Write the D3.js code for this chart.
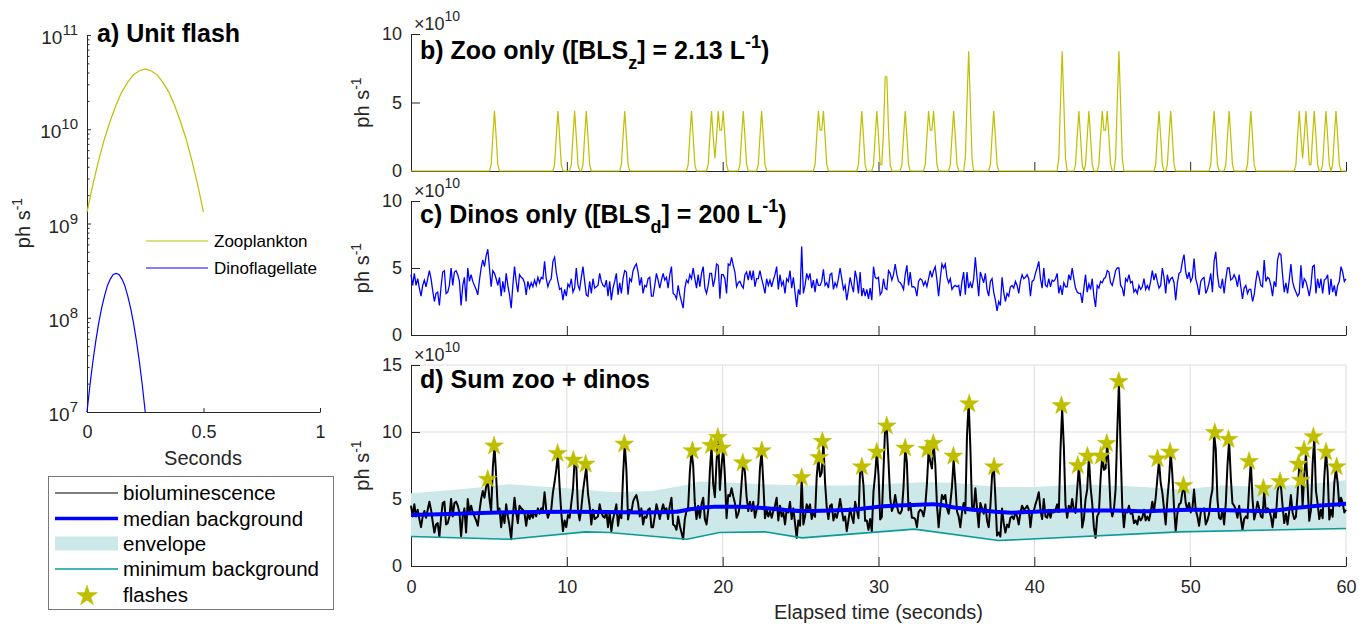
<!DOCTYPE html>
<html>
<head>
<meta charset="utf-8">
<script src="https://cdn.jsdelivr.net/npm/d3@7"></script>
<style>
  body { margin: 0; background: #fff; }
  svg text { font-family: "Liberation Sans", Arial, Helvetica, sans-serif; }
</style>
</head>
<body>
<svg id="chart" width="1368" height="624"></svg>
<script>
/*  Unit flashes, zoo / dino traces and detected flashes  */

// ---- a) unit flash (ph s^-1) ----
const zooFlashT = d3.range(21).map(i => i * 0.025);     // 0 .. 0.5 s
const zooFlash = [1.32e9, 2.57e9, 4.68e9, 7.94e9, 1.23e10, 1.82e10, 2.51e10, 3.16e10, 3.80e10, 4.17e10, 4.37e10,
                  4.17e10, 3.80e10, 3.16e10, 2.51e10, 1.82e10, 1.23e10, 7.94e9, 4.68e9, 2.57e9, 1.32e9];
const dinoFlashT = d3.range(21).map(i => i * 0.0125);   // 0 .. 0.25 s
const dinoFlash = [1.0e7, 1.91e7, 3.39e7, 5.62e7, 8.71e7, 1.26e8, 1.70e8, 2.19e8, 2.57e8, 2.88e8, 2.95e8,
                   2.88e8, 2.57e8, 2.19e8, 1.70e8, 1.26e8, 8.71e7, 5.62e7, 3.39e7, 1.91e7, 1.0e7];
const yTicksA = [1e7, 1e8, 1e9, 1e10, 1e11];
const xTicksA = [0, 0.5, 1];

// ---- c) dinoflagellate trace, x1e10 ph s^-1, evenly sampled over 0..60 s ----
const dinoTrace = [
  4.5, 3.7, 4.6, 3.7, 4.2, 3.5, 2.9, 3.7, 4.1, 3.6,
  4.2, 4.8, 4.2, 3.3, 2.5, 3.1, 3.2, 2.2, 3.6, 4.7,
  4.8, 3.1, 3.2, 3.7, 5.0, 3.7, 4.7, 4.8, 4.5, 4.0,
  2.2, 3.7, 4.3, 2.5, 5.0, 4.0, 4.5, 4.0, 3.7, 3.4,
  3.0, 4.1, 5.0, 5.6, 5.1, 5.9, 6.4, 5.0, 3.6, 4.8,
  4.6, 4.2, 3.7, 4.3, 2.9, 4.0, 3.2, 4.6, 3.7, 3.0,
  2.0, 3.7, 5.1, 4.0, 3.2, 4.5, 4.3, 4.2, 3.9, 3.0,
  4.0, 3.5, 3.9, 3.6, 4.1, 3.7, 4.3, 3.9, 4.3, 4.2,
  5.5, 4.2, 3.6, 4.0, 4.2, 5.5, 5.8, 4.7, 4.0, 3.4,
  3.5, 2.6, 3.4, 2.9, 3.8, 3.6, 4.2, 3.2, 3.5, 5.0,
  3.7, 3.4, 4.3, 5.1, 4.0, 3.0, 2.9, 4.0, 3.1, 4.2,
  3.5, 3.6, 3.7, 4.6, 4.0, 3.7, 3.6, 4.1, 2.9, 4.0,
  2.6, 3.5, 4.0, 4.6, 3.0, 3.9, 3.1, 4.2, 4.8, 4.7,
  3.0, 4.2, 4.0, 4.8, 5.1, 5.3, 4.7, 3.7, 4.3, 3.1,
  3.7, 3.6, 4.2, 4.3,
  2.9, 2.9, 3.7, 4.6, 4.1, 3.5, 4.1, 4.6, 4.1, 4.3,
  3.5, 4.5, 5.1, 3.1, 3.0, 2.7, 3.7, 3.0, 2.5, 2.0,
  3.5, 4.1, 3.9, 4.5, 4.2, 5.0, 4.2, 3.5, 4.5, 3.6,
  4.6, 5.1, 3.5, 3.1, 3.7, 4.6, 4.6, 3.6, 4.2, 5.3,
  5.2, 2.7, 4.5, 4.5, 4.2, 3.1, 5.3, 5.2, 5.8, 5.2,
  4.7, 3.6, 3.9, 4.0, 3.7, 3.5, 4.5, 4.7, 4.1, 4.8,
  4.1, 4.8, 3.6, 4.2, 4.2, 4.8, 4.2, 3.7, 3.1, 4.2,
  3.7, 4.1, 3.6, 4.1, 4.5, 5.1, 3.4, 4.5, 3.7, 4.0,
  3.1, 4.2, 4.0, 4.8, 3.5, 4.3, 3.2, 2.1, 3.4, 3.0,
  6.6, 3.1, 3.7, 4.6, 4.2, 4.6, 3.5, 4.1, 3.2, 4.2,
  3.7, 3.7, 4.0, 4.9, 3.7, 3.9, 3.5, 4.5, 4.6, 3.4,
  3.9, 3.6, 4.2, 5.0, 4.2, 3.4, 3.7, 2.6, 3.4, 4.3,
  3.7, 3.2, 4.8, 4.2, 3.1, 4.7, 2.9, 3.5, 2.9, 3.4,
  2.7, 3.5, 2.6, 5.1, 4.3, 4.2, 4.3,
  3.0, 3.2, 4.2, 3.5, 3.4, 4.8, 4.6, 4.1, 4.5, 5.3,
  4.5, 4.0, 3.9, 3.7, 3.4, 4.5, 5.2, 3.7, 4.7, 3.6,
  3.6, 3.5, 2.9, 4.0, 4.2, 4.1, 3.7, 4.0, 3.6, 4.2,
  4.8, 4.3, 4.8, 5.1, 4.1, 2.9, 4.2, 5.3, 5.0, 5.3,
  4.3, 3.9, 4.2, 3.4, 3.6, 3.7, 3.6, 3.7, 2.9, 4.0,
  4.7, 3.0, 4.7, 3.5, 3.9, 3.5, 4.2, 5.8, 4.3, 2.9,
  4.7, 4.3, 3.9, 4.6, 3.4, 2.9, 4.0, 4.2, 3.2, 2.6,
  1.8, 2.5, 2.2, 4.3, 3.2, 2.5, 3.1, 2.9, 3.6, 3.7,
  3.5, 4.0, 3.7, 3.1, 4.0, 4.5, 4.2, 4.3, 4.5, 4.2,
  2.9, 4.0, 4.1, 4.6, 5.0, 5.5, 4.2, 3.5, 5.0, 3.7,
  3.6, 4.2, 3.6, 4.1, 4.0, 4.2, 4.6, 3.1, 3.7, 3.0,
  3.9, 3.6, 3.6, 4.5, 4.1, 5.0, 4.2, 3.5, 3.2, 3.1,
  3.1, 2.4, 3.5, 4.5, 3.2, 3.8, 3.4, 4.2, 2.9, 2.1,
  3.7, 3.5, 4.0, 3.9, 4.2, 4.3, 4.8, 4.7,
  3.9, 3.7, 4.2, 4.8, 5.0, 5.0, 3.7, 3.5, 2.9, 4.2,
  4.0, 4.5, 3.9, 4.0, 3.2, 3.4, 3.1, 3.7, 3.4, 3.6,
  4.2, 3.4, 3.7, 3.4, 4.0, 4.8, 4.1, 4.6, 4.0, 3.5,
  3.7, 5.0, 4.3, 3.1, 4.5, 3.9, 4.2, 4.3, 3.9, 2.6,
  3.9, 4.6, 4.7, 5.5, 6.0, 4.7, 4.2, 4.7, 4.0, 4.3,
  5.7, 4.2, 3.7, 3.0, 4.0, 4.2, 4.3, 3.1, 3.4, 3.9,
  4.6, 3.2, 5.5, 6.2, 4.5, 3.6, 3.5, 4.2, 3.1, 4.2,
  5.0, 5.0, 4.1, 4.2, 4.5, 4.2, 3.6, 4.5, 3.6, 2.7,
  3.5, 3.7, 3.1, 3.4, 3.4, 2.5, 3.0, 4.0, 4.8, 4.3,
  3.7, 3.6, 5.6, 4.0, 4.3, 4.2, 3.7, 2.9, 4.0, 3.6,
  5.6, 6.1, 6.0, 4.5, 3.2, 3.9, 3.1, 4.1, 5.3, 4.0,
  3.5, 3.2, 2.9, 3.1, 5.2, 3.5, 4.2, 4.0, 3.5, 2.9,
  3.7, 5.1, 5.2, 3.1, 4.2, 3.5, 4.2, 3.1, 4.1, 4.2,
  4.5, 3.0, 4.2, 3.2, 3.7, 2.9, 3.7, 4.0, 5.1, 4.7,
  4.0, 4.2
];

// ---- b) zooplankton flash times (s) ----
const zooFlashTimes = [5.35, 9.45, 10.5, 11.25, 13.7, 18.0, 19.3, 19.7, 20.05, 21.3, 22.5, 26.15, 26.45,
  28.95, 29.9, 30.45, 30.55, 31.7, 33.2, 33.5, 34.8, 35.8, 35.8, 37.4, 41.8, 41.8, 42.85, 43.5,
  44.35, 44.7, 45.45, 45.45, 48.0, 48.75, 51.55, 52.5, 53.9, 57.0, 57.45, 57.95, 58.75, 59.35];

// ---- d) background estimates, x1e10 ----
const medianTimes = [0, 3, 5, 10, 15, 17, 18, 19.5, 21, 23, 25, 27, 28.5, 30, 32, 33.5, 35, 37, 38.5, 40, 42, 45, 47, 50, 53, 55, 56.5, 58, 60];
const medianValues = [3.8, 3.9, 3.98, 4.05, 4.0, 4.05, 4.25, 4.43, 4.43, 4.3, 4.1, 4.15, 4.22, 4.43, 4.55, 4.6, 4.35, 4.1, 3.98, 4.05, 4.15, 4.15, 4.08, 4.2, 4.15, 4.1, 4.3, 4.48, 4.65];
const envUpperTimes = [0, 3, 6.3, 10, 13, 15.5, 17.5, 18.5, 20, 22.5, 25, 28, 30, 33, 35, 37.5, 40, 43, 47, 49.5, 52, 55, 58, 60];
const envUpperValues = [5.42, 5.7, 6.1, 5.8, 5.5, 5.6, 6.0, 6.3, 6.25, 6.1, 6.0, 6.0, 6.1, 6.25, 6.2, 5.9, 5.9, 6.1, 5.9, 5.7, 6.0, 5.9, 6.15, 6.4];
const minTimes = [0, 6.3, 11.2, 12.7, 17.7, 19.8, 22.7, 25.1, 32.3, 37.7, 49.3, 60];
const minValues = [2.2, 2.0, 2.55, 2.5, 2.0, 2.5, 2.55, 2.1, 2.75, 1.9, 2.55, 2.8];

// ---- d) detected flashes ----
const starTimes = [4.92, 5.33, 9.41, 10.42, 11.21, 13.69, 18.06, 19.26, 19.69, 19.94, 21.29, 22.51, 25.07, 26.19, 26.4,
  28.93, 29.89, 30.53, 31.71, 33.14, 33.52, 34.81, 35.82, 37.42, 41.74, 42.79, 43.41, 44.27, 44.65, 45.42,
  47.9, 48.71, 49.57, 51.58, 52.46, 53.78, 54.7, 55.77, 56.95, 57.1, 57.31, 57.91, 58.72, 59.4];
const starValues = [6.47, 8.96, 8.4, 7.9, 7.6, 9.1, 8.6, 9.0, 9.6, 8.8, 7.7, 8.6, 6.6, 8.1, 9.3,
  7.4, 8.5, 10.45, 8.8, 8.7, 9.15, 8.2, 12.1, 7.4, 11.97, 7.5, 8.2, 8.2, 9.15, 13.76,
  8.0, 8.5, 6.0, 9.95, 9.45, 7.8, 5.8, 6.3, 7.6, 6.4, 8.65, 9.65, 8.5, 7.4];

const legendLabels = ["bioluminescence", "median background", "envelope", "minimum background", "flashes"];

/******************************
*        SHARED STUFF          *
******************************/
const axisColor = "#262626";
const zooColor = "#bfbf00";
const svg = d3.select("#chart");

// zoo trace: unit flash (sampled every ~0.1 s) placed at each flash time
const n = dinoTrace.length;
const dt = 60 / (n - 1);
const times = dinoTrace.map((v, i) => i * dt);
const zooPulse = [2, 6, 10, 14, 18].map(i => zooFlash[i] / 1e10);
const zooTrace = new Array(n).fill(0);
zooFlashTimes.forEach(t => {
  const k = Math.round(t / dt);
  zooPulse.forEach((p, j) => {
    const idx = k + j - 2;
    if (idx >= 0 && idx < n) zooTrace[idx] += p;
  });
});
const sumTrace = dinoTrace.map((v, i) => v + zooTrace[i]);

function styleAxis(g) {
  g.attr("font-family", null).attr("font-size", null);
  g.select(".domain").attr("stroke", axisColor).attr("stroke-width", 1);
  g.selectAll(".tick line").attr("stroke", axisColor);
  g.selectAll(".tick text").attr("fill", axisColor).style("font-size", "18px");
}

function yLabel(x, y) {
  const t = svg.append("text")
    .attr("transform", "translate(" + x + "," + y + ") rotate(-90)")
    .attr("text-anchor", "middle")
    .attr("fill", axisColor)
    .style("font-size", "20px");
  t.append("tspan").text("ph s");
  t.append("tspan").attr("dy", -8).style("font-size", "14px").text("-1");
}

function title(x, y, parts) {
  const t = svg.append("text")
    .attr("x", x).attr("y", y)
    .attr("font-weight", "bold")
    .attr("fill", "#000")
    .style("font-size", "25px");
  parts.forEach(p => {
    t.append("tspan").attr("dy", p[1] || 0).style("font-size", p[2] || null).text(p[0]);
  });
}

function expLabel(x, y, base, exp, size, expSize, anchor) {
  const t = svg.append("text")
    .attr("x", x).attr("y", y)
    .attr("text-anchor", anchor || "start")
    .attr("fill", axisColor)
    .style("font-size", size + "px");
  t.append("tspan").text(base);
  t.append("tspan").attr("dy", -9).style("font-size", expSize + "px").text(exp);
}

/******************************
*       a) UNIT FLASH          *
******************************/
const xa = d3.scaleLinear().domain([0, 1]).range([87, 320]);
const ya = d3.scaleLog().domain([1e7, 1e11]).range([412, 35]);

const minorA = [];
[1e7, 1e8, 1e9, 1e10].forEach(dec => { for (let m = 2; m <= 9; m++) minorA.push(dec * m); });

svg.append("g")
  .attr("transform", "translate(87,0)")
  .call(d3.axisLeft(ya).tickValues(minorA).tickSizeInner(-2.5).tickSizeOuter(0).tickFormat(""))
  .call(styleAxis);
svg.append("g")
  .attr("transform", "translate(87,0)")
  .call(d3.axisLeft(ya).tickValues(yTicksA).tickSizeInner(-4).tickSizeOuter(0).tickFormat(""))
  .call(styleAxis);
yTicksA.forEach(v => expLabel(78, ya(v) + 9, "10", Math.round(Math.log10(v)), 19, 15, "end"));

svg.append("g")
  .attr("transform", "translate(0,412)")
  .call(d3.axisBottom(xa).tickValues(xTicksA).tickSizeInner(-4).tickSizeOuter(0).tickPadding(13)
    .tickFormat(d => d === 0.5 ? "0.5" : d3.format("d")(d)))
  .call(styleAxis);

svg.append("text").attr("x", 203).attr("y", 465).attr("text-anchor", "middle")
  .attr("fill", axisColor).style("font-size", "20px").text("Seconds");
yLabel(30, 223);

const lineA = d3.line().x(d => xa(d[0])).y(d => ya(d[1]));
svg.append("path")
  .attr("d", lineA(zooFlashT.map((t, i) => [t, zooFlash[i]])))
  .attr("fill", "none").attr("stroke", zooColor).attr("stroke-width", 1.2);
svg.append("path")
  .attr("d", lineA(dinoFlashT.map((t, i) => [t, dinoFlash[i]])))
  .attr("fill", "none").attr("stroke", "#0000ff").attr("stroke-width", 1.2);

title(97, 42, [["a) Unit flash"]]);

// legend a
[["Zooplankton", zooColor, 241], ["Dinoflagellate", "#0000ff", 268]].forEach(r => {
  svg.append("line").attr("x1", 146).attr("x2", 208).attr("y1", r[2]).attr("y2", r[2])
    .attr("stroke", r[1]).attr("stroke-width", 1.2);
  svg.append("text").attr("x", 214).attr("y", r[2] + 6).attr("fill", "#000")
    .style("font-size", "17px").text(r[0]);
});

/******************************
*      b), c), d) TRACES       *
******************************/
const x = d3.scaleLinear().domain([0, 60]).range([411, 1346]);
const xTicks = [0, 10, 20, 30, 40, 50, 60];

function frame(top, bottom, maxV, yTicks, showX, grid) {
  const y = d3.scaleLinear().domain([0, maxV]).range([bottom, top]);
  if (grid) {
    const gg = svg.append("g");
    xTicks.slice(1).forEach(t => gg.append("line")
      .attr("x1", x(t)).attr("x2", x(t)).attr("y1", top).attr("y2", bottom)
      .attr("stroke", "#dddddd").attr("stroke-width", 1));
    yTicks.slice(1).forEach(v => gg.append("line")
      .attr("x1", x(0)).attr("x2", x(60)).attr("y1", y(v)).attr("y2", y(v))
      .attr("stroke", "#dddddd").attr("stroke-width", 1));
  }
  svg.append("g")
    .attr("transform", "translate(411,0)")
    .call(d3.axisLeft(y).tickValues(yTicks).tickSizeInner(-9).tickSizeOuter(0).tickPadding(9))
    .call(styleAxis);
  svg.append("g")
    .attr("transform", "translate(0," + bottom + ")")
    .call(d3.axisBottom(x).tickValues(xTicks).tickSizeInner(-9).tickSizeOuter(0).tickPadding(14)
      .tickFormat(showX ? d3.format("d") : ""))
    .call(styleAxis);
  expLabel(414, top - 4, "\u00d710", "10", 18, 14);
  yLabel(369, (top + bottom) / 2);
  return y;
}

// b)
const yb = frame(34, 171, 10, [0, 5, 10], false, false);
svg.append("path")
  .attr("d", d3.line().x((d, i) => x(times[i])).y(d => yb(d))(zooTrace))
  .attr("fill", "none").attr("stroke", zooColor).attr("stroke-width", 1.2);
title(420, 59, [["b) Zoo only ([BLS"], ["z", 10, "18px"], ["] = 2.13 L", -10], ["-1", -11, "18px"], [")", 11]]);

// c)
const yc = frame(201, 335, 10, [0, 5, 10], false, false);
svg.append("path")
  .attr("d", d3.line().x((d, i) => x(times[i])).y(d => yc(d))(dinoTrace))
  .attr("fill", "none").attr("stroke", "#0000ff").attr("stroke-width", 1.3);
title(420, 223, [["c) Dinos only ([BLS"], ["d", 10, "18px"], ["] = 200 L", -10], ["-1", -11, "18px"], [")", 11]]);

// d)
const yd = frame(365, 566, 15, [0, 5, 10, 15], true, true);
const envPts = envUpperTimes.map((t, i) => [x(t), yd(envUpperValues[i])])
  .concat(minTimes.map((t, i) => [x(t), yd(minValues[i])]).reverse());
svg.append("path").attr("d", d3.line()(envPts) + "Z").attr("fill", "#cce8e8").attr("stroke", "none");

svg.append("path")
  .attr("d", d3.line().x((d, i) => x(times[i])).y(d => yd(d))(sumTrace))
  .attr("fill", "none").attr("stroke", "#000").attr("stroke-width", 2).attr("stroke-linejoin", "round");
svg.append("path")
  .attr("d", d3.line().curve(d3.curveMonotoneX).x((d, i) => x(medianTimes[i])).y(d => yd(d))(medianValues))
  .attr("fill", "none").attr("stroke", "#0000ff").attr("stroke-width", 4);
svg.append("path")
  .attr("d", d3.line().x((d, i) => x(minTimes[i])).y(d => yd(d))(minValues))
  .attr("fill", "none").attr("stroke", "#0a9a9a").attr("stroke-width", 1.6);

const star = d3.symbol().type(d3.symbolStar).size(110);
svg.append("g").selectAll("path")
  .data(starTimes.map((t, i) => [t, starValues[i]]))
  .join("path")
  .attr("d", star)
  .attr("transform", d => "translate(" + x(d[0]) + "," + yd(d[1]) + ")")
  .attr("fill", zooColor).attr("stroke", zooColor).attr("stroke-width", 0.5);

title(420, 388, [["d) Sum zoo + dinos"]]);
svg.append("text").attr("x", 878.5).attr("y", 619).attr("text-anchor", "middle")
  .attr("fill", axisColor).style("font-size", "20px").text("Elapsed time (seconds)");

/******************************
*           LEGEND             *
******************************/
const lg = svg.append("g");
lg.append("rect").attr("x", 48.5).attr("y", 476.5).attr("width", 285).attr("height", 133)
  .attr("fill", "#fff").attr("stroke", "#777").attr("stroke-width", 1);
const rowY = [493, 518.5, 544, 569, 595];
legendLabels.forEach((lab, i) => {
  const yy = rowY[i];
  if (i === 0) lg.append("line").attr("x1", 55).attr("x2", 118).attr("y1", yy).attr("y2", yy).attr("stroke", "#000").attr("stroke-width", 1.2);
  if (i === 1) lg.append("line").attr("x1", 55).attr("x2", 118).attr("y1", yy).attr("y2", yy).attr("stroke", "#0000ff").attr("stroke-width", 3.5);
  if (i === 2) lg.append("rect").attr("x", 55).attr("y", yy - 7.5).attr("width", 63).attr("height", 14).attr("fill", "#cce8e8");
  if (i === 3) lg.append("line").attr("x1", 55).attr("x2", 118).attr("y1", yy).attr("y2", yy).attr("stroke", "#0a9a9a").attr("stroke-width", 1.6);
  if (i === 4) lg.append("path").attr("d", d3.symbol().type(d3.symbolStar).size(135)())
    .attr("transform", "translate(87," + (yy + 1) + ")").attr("fill", zooColor).attr("stroke", zooColor).attr("stroke-width", 0.5);
  lg.append("text").attr("x", 123).attr("y", yy + 7).attr("fill", "#000")
    .style("font-size", "20.5px").text(lab);
});
</script>
</body>
</html>
